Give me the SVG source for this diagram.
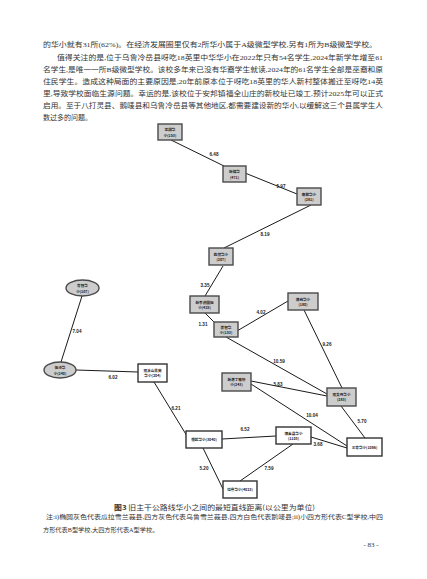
<svg xmlns="http://www.w3.org/2000/svg" width="427" height="579" viewBox="0 0 427 579">
<style>
.body{font-family:"Liberation Serif","Noto Sans CJK SC",serif;font-size:7px;fill:#333}
.cap{font-family:"Noto Sans CJK SC",sans-serif;font-size:6.6px;fill:#333}
.note{font-family:"Liberation Serif","Noto Sans CJK SC",serif;font-size:6.2px;fill:#333}
.g{fill:#cdcdcd;stroke:#4a4a4a;stroke-width:1.4}
.w{fill:#fff;stroke:#333;stroke-width:1.4}
.nt{font-family:"Noto Sans CJK SC",sans-serif;font-size:3.6px;font-weight:bold;fill:#222;text-anchor:middle}
.el{font-family:"Liberation Sans","Noto Sans CJK SC",sans-serif;font-size:4.6px;font-weight:bold;fill:#222;text-anchor:middle}
.c line{stroke:#1a1a1a;stroke-width:1}
</style>
<rect width="427" height="579" fill="#fff"/>
<g id="body-text">
<text class="body" x="43" y="46.5" textLength="334" lengthAdjust="spacingAndGlyphs">的华小就有31所(62%)。在经济发展圈里仅有2所华小属于A级微型学校,另有1所为B级微型学校。</text>
<text class="body" x="57" y="59.5" textLength="326" lengthAdjust="spacingAndGlyphs">值得关注的是,位于乌鲁冷岳县呀吃18英里中华华小在2022年只有54名学生,2024年新学年增至61</text>
<text class="body" x="43" y="71.5" textLength="340" lengthAdjust="spacingAndGlyphs">名学生,是唯一一所B级微型学校。该校多年来已没有华裔学生就读,2024年的61名学生全部是巫裔和原</text>
<text class="body" x="43" y="83.5" textLength="340" lengthAdjust="spacingAndGlyphs">住民学生。造成这种局面的主要原因是,20年前原本位于呀吃18英里的华人新村整体搬迁至呀吃14英</text>
<text class="body" x="43" y="95.5" textLength="340" lengthAdjust="spacingAndGlyphs">里,导致学校面临生源问题。幸运的是,该校位于安邦镇福全山庄的新校址已竣工,预计2025年可以正式</text>
<text class="body" x="43" y="107.5" textLength="340" lengthAdjust="spacingAndGlyphs">启用。至于八打灵县、鹅唛县和乌鲁冷岳县等其他地区,都需要建设新的华小,以缓解这三个县属学生人</text>
<text class="body" x="43" y="119.5">数过多的问题。</text>
</g>
<g id="connectors" class="c">
<line x1="171" y1="140" x2="224" y2="166"/>
<line x1="245" y1="173" x2="297" y2="194"/>
<line x1="311" y1="205" x2="224" y2="248"/>
<line x1="223" y1="266" x2="205" y2="296"/>
<line x1="205" y1="313" x2="216" y2="324"/>
<line x1="237" y1="331" x2="288" y2="301"/>
<line x1="304" y1="310" x2="342" y2="388"/>
<line x1="226" y1="337" x2="327" y2="394"/>
<line x1="251" y1="381" x2="327" y2="396"/>
<line x1="251" y1="384" x2="347" y2="446"/>
<line x1="341" y1="406" x2="365" y2="438"/>
<line x1="82" y1="296" x2="61" y2="362"/>
<line x1="76" y1="370" x2="138" y2="372"/>
<line x1="154" y1="382" x2="187" y2="436"/>
<line x1="222" y1="439" x2="276" y2="436"/>
<line x1="311" y1="437" x2="347" y2="448"/>
<line x1="203" y1="448" x2="223" y2="489"/>
<line x1="293" y1="444" x2="240" y2="481"/>
</g>
<g id="edge-labels">
<text class="el" x="214" y="156">6.48</text>
<text class="el" x="281" y="188">5.97</text>
<text class="el" x="265" y="236">8.19</text>
<text class="el" x="205" y="287">3.35</text>
<text class="el" x="203" y="326">1.31</text>
<text class="el" x="261" y="314">4.02</text>
<text class="el" x="327" y="346">9.26</text>
<text class="el" x="279" y="363">10.59</text>
<text class="el" x="278" y="386">5.83</text>
<text class="el" x="312" y="417">10.04</text>
<text class="el" x="362" y="423">5.70</text>
<text class="el" x="77" y="333">7.04</text>
<text class="el" x="113" y="379">6.02</text>
<text class="el" x="176" y="410">6.21</text>
<text class="el" x="245" y="431">6.52</text>
<text class="el" x="318" y="446">3.68</text>
<text class="el" x="204" y="470">5.20</text>
<text class="el" x="269" y="470">7.59</text>
</g>
<g id="n1"><rect class="g" x="158" y="124" width="24" height="16"/><text class="nt" x="170" y="131">龙翔华</text><text class="nt" x="170" y="136.5">小(153)</text></g>
<g id="n2"><rect class="g" x="223" y="166" width="23" height="16"/><text class="nt" x="234.5" y="173">新锦华</text><text class="nt" x="234.5" y="178.5">(471)</text></g>
<g id="n3"><rect class="g" x="297" y="188" width="24" height="17"/><text class="nt" x="309" y="195.5">南鹏华小</text><text class="nt" x="309" y="201">(281)</text></g>
<g id="n4"><rect class="g" x="209" y="248" width="24" height="17"/><text class="nt" x="221" y="255.5">屹然华小</text><text class="nt" x="221" y="261">(207)</text></g>
<g id="n5"><ellipse class="g" cx="82.5" cy="288" rx="16.5" ry="8"/><text class="nt" x="82.5" y="287">育智华</text><text class="nt" x="82.5" y="292.5">小(107)</text></g>
<g id="n6"><ellipse class="g" cx="60" cy="370" rx="16" ry="8"/><text class="nt" x="60" y="369">伍诗华</text><text class="nt" x="60" y="374.5">小(240)</text></g>
<g id="n7"><rect class="w" x="138" y="364" width="29" height="18"/><text class="nt" x="152.5" y="371.5">双溪山景苑</text><text class="nt" x="152.5" y="377">华小(204)</text></g>
<g id="n8"><rect class="g" x="190" y="296" width="29" height="17"/><text class="nt" x="204.5" y="303.5">新孝德国际</text><text class="nt" x="204.5" y="309">小(425)</text></g>
<g id="n9"><rect class="g" x="214" y="322" width="24" height="15"/><text class="nt" x="226" y="328.5">崇智华</text><text class="nt" x="226" y="334">小(153)</text></g>
<g id="n10"><rect class="g" x="288" y="293" width="30" height="17"/><text class="nt" x="303" y="300.5">蒲岗华小</text><text class="nt" x="303" y="306">(180)</text></g>
<g id="n11"><rect class="g" x="327" y="388" width="29" height="18"/><text class="nt" x="341.5" y="395.5">双文丹华小</text><text class="nt" x="341.5" y="401">(283)</text></g>
<g id="n12"><rect class="g" x="222" y="373" width="29" height="18"/><text class="nt" x="236.5" y="380.5">新港丁雅轩</text><text class="nt" x="236.5" y="386">小(243)</text></g>
<g id="n13"><rect class="w" x="347" y="438" width="35" height="18"/><text class="nt" x="364.5" y="448.5">三育华小(1086)</text></g>
<g id="n14"><rect class="w" x="186" y="431" width="36" height="17"/><text class="nt" x="204" y="441">恒毅华小(3040)</text></g>
<g id="n15"><rect class="w" x="276" y="427" width="35" height="17"/><text class="nt" x="293.5" y="434.5">蒲莱县华小</text><text class="nt" x="293.5" y="440">(1103)</text></g>
<g id="n16"><rect class="w" x="223" y="481" width="34" height="17"/><text class="nt" x="240" y="491">拉曼华小(4023)</text></g>
<g id="caption">
<text class="cap" x="114" y="509.5" textLength="201" lengthAdjust="spacingAndGlyphs"><tspan font-weight="bold">图3</tspan>  旧主干公路线华小之间的最短直线距离(以公里为单位)</text>
<text class="note" x="46" y="518.5" textLength="337" lengthAdjust="spacingAndGlyphs">注:i)椭圆灰色代表瓜拉雪兰莪县,四方灰色代表乌鲁雪兰莪县,四方白色代表鹅唛县;ii)小四方形代表C型学校,中四</text>
<text class="note" x="43" y="531.5">方形代表B型学校,大四方形代表A型学校。</text>
<text class="body" x="371" y="546.5" text-anchor="middle">- 83 -</text>
</g>
</svg>
